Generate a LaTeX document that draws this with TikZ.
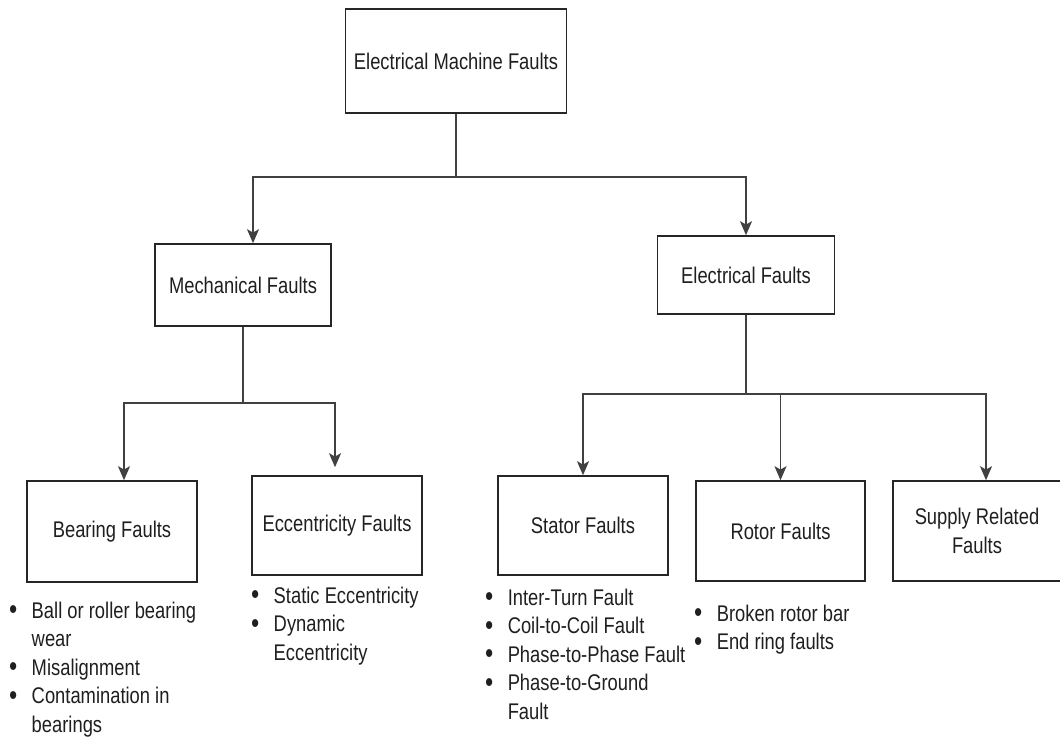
\documentclass[tikz,border=0pt]{standalone}
\usepackage{fontspec}
\setmainfont{Liberation Sans}[FakeStretch=0.81]
\usepackage{tikz}
\usetikzlibrary{arrows.meta, positioning, calc}

\newcommand{\diagfont}{\fontsize{17}{21.4}\selectfont}
\newcommand{\bul}{\raisebox{-0.6pt}{\scalebox{1.2}{\bfseries\textbullet}}}
\newcommand{\blist}[1]{\begin{tabular}[t]{@{}c@{\hspace{11pt}}l@{}}#1\end{tabular}}

\begin{document}
\begin{tikzpicture}[
  x=0.75pt, y=-0.75pt,
  fault/.style={rectangle, draw=black!85, line width=1.2pt, fill=white,
                inner sep=0pt, align=center, font=\diagfont, text=black!88},
  items/.style={inner sep=0pt, anchor=base west, font=\diagfont, text=black!88},
  arrow/.style={-{Stealth[length=10.5pt, width=9pt, inset=2.5pt]}, line width=1.2pt, draw=black!75},
  link/.style={line width=1.2pt, draw=black!75}
]
  \useasboundingbox (0,0) rectangle (1060,736);

  % boxes
  \node[fault, minimum width=165.75pt, minimum height=78pt] (root) at (456,61) {Electrical Machine Faults};
  \node[fault, minimum width=132pt, minimum height=61.5pt] (mech) at (243,285) {Mechanical Faults};
  \node[fault, minimum width=132.75pt, minimum height=58.5pt] (elec) at (746,275) {Electrical Faults};
  \node[fault, minimum width=127.5pt, minimum height=75.75pt] (bear) at (112,531.5) {Bearing Faults};
  \node[fault, minimum width=127.5pt, minimum height=74.25pt] (ecc) at (337,525.5) {Eccentricity Faults};
  \node[fault, minimum width=127.5pt, minimum height=74.25pt] (stat) at (583,525.5) {Stator Faults};
  \node[fault, minimum width=126.75pt, minimum height=75pt] (rot) at (780.5,531) {Rotor Faults};
  \node[fault, minimum width=126pt, minimum height=75pt] (sup) at (977,531) {Supply Related\\Faults};

  % connectors
  \coordinate (j0) at (456,177);
  \coordinate (j1) at (243,403);
  \coordinate (j2) at (746,394);
  \draw[link] (root.south) -- (j0);
  \draw[arrow] (j0) -| ($(mech.north)+(10,0)$);
  \draw[arrow] (j0) -| (elec.north);
  \draw[link] (mech.south) -- (j1);
  \draw[arrow] (j1) -| ($(bear.north)+(12,0)$);
  \draw[arrow, shorten >=6pt] (j1) -| ($(ecc.north)+(-2,0)$);
  \draw[link] (elec.south) -- (j2);
  \draw[arrow] (j2) -| (stat.north);
  \draw[arrow] (j2) -| (rot.north);
  \draw[arrow] (j2) -| ($(sup.north)+(9,0)$);

  % bullet lists
  \node[items] (lbear) at (9.1,618) {\blist{\bul & Ball or roller bearing\\ & wear\\
    \bul & Misalignment\\ \bul & Contamination in\\ & bearings}};
  \node[items] (lecc) at (251.1,603) {\blist{\bul & Static Eccentricity\\
    \bul & Dynamic\\ & Eccentricity}};
  \node[items] (lstat) at (485.1,605) {\blist{\bul & Inter-Turn Fault\\
    \bul & Coil-to-Coil Fault\\ \bul & Phase-to-Phase Fault\\
    \bul & Phase-to-Ground\\ & Fault}};
  \node[items] (lrot) at (694.1,621) {\blist{\bul & Broken rotor bar\\
    \bul & End ring faults}};
\end{tikzpicture}
\end{document}
